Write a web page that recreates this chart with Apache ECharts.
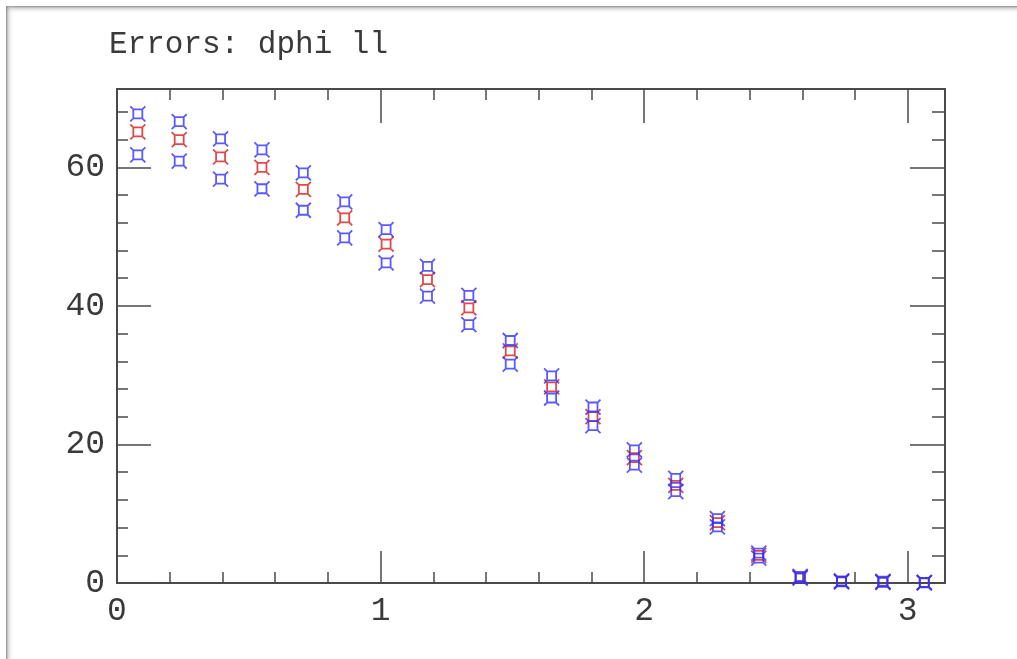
<!DOCTYPE html>
<html>
<head>
<meta charset="utf-8">
<title>Errors: dphi ll</title>
<script src="https://cdn.jsdelivr.net/npm/echarts@6/dist/echarts.min.js"></script>
<style>
  html, body { margin: 0; padding: 0; background: #ffffff; }
  #chart { width: 1017px; height: 659px; }
</style>
</head>
<body>
<div id="chart"></div>
<script>
// Bin centres of dphi(ll), 20 bins on [0, pi]
const binCenters = [0.079, 0.236, 0.393, 0.550, 0.707, 0.864, 1.021, 1.178, 1.335, 1.492,
                    1.649, 1.806, 1.963, 2.120, 2.278, 2.435, 2.592, 2.749, 2.906, 3.063];

// Nominal values (red) and the up / down variations (blue)
const nominal = [65.1, 64.0, 61.5, 60.0, 56.8, 52.7, 48.9, 43.8, 39.7, 33.5,
                 28.3, 24.0, 18.1, 14.1, 8.7, 4.0, 0.8, 0.22, 0.15, 0.05];
const errUp   = [67.7, 66.6, 64.1, 62.5, 59.2, 55.0, 51.0, 45.7, 41.5, 35.0,
                 29.9, 25.4, 19.2, 15.1, 9.3, 4.3, 0.95, 0.3, 0.25, 0.08];
const errDown = [61.8, 60.9, 58.3, 56.9, 53.8, 49.8, 46.2, 41.4, 37.3, 31.6,
                 26.7, 22.7, 17.0, 13.2, 8.1, 3.6, 0.7, 0.15, 0.1, 0.02];

// Axis ranges and tick positions
const xMin = 0, xMax = 3.1416;
const yMin = 0, yMax = 71.3;
const xMajorTicks = [0, 1, 2, 3];
const xMinorTicks = [0.2, 0.4, 0.6, 0.8, 1.2, 1.4, 1.6, 1.8, 2.2, 2.4, 2.6, 2.8];
const yMajorTicks = [0, 20, 40, 60];
const yMinorTicks = [4, 8, 12, 16, 24, 28, 32, 36, 44, 48, 52, 56, 64, 68];

const titleText = 'Errors: dphi ll';

// Marker: open square with flared corners
const markerPath = 'path://M3.5,3.5 L12.5,3.5 L12.5,12.5 L3.5,12.5 Z M0.5,0.5 L3.5,3.5 M15.5,0.5 L12.5,3.5 M0.5,15.5 L3.5,12.5 M15.5,15.5 L12.5,12.5';

const FONT = "'Liberation Mono', 'DejaVu Sans Mono', monospace";
const AXIS_COLOR = '#4a4a4a';

function zip(xs, ys) { return xs.map((x, i) => [x, ys[i]]); }

function xAxisDef(position, ticks, len, withLine, withLabels) {
  return {
    type: 'value', position, min: xMin, max: xMax, gridIndex: 0,
    axisLine: { show: withLine, onZero: false, lineStyle: { color: AXIS_COLOR, width: 2 } },
    axisTick: { show: true, inside: true, length: len, customValues: ticks,
                lineStyle: { color: AXIS_COLOR, width: 1.5 } },
    axisLabel: withLabels
      ? { show: true, customValues: ticks, margin: 12, color: '#3a3a3a',
          fontFamily: FONT, fontSize: 33, formatter: v => String(v) }
      : { show: false },
    splitLine: { show: false }
  };
}

function yAxisDef(position, ticks, len, withLine, withLabels) {
  return {
    type: 'value', position, min: yMin, max: yMax, gridIndex: 0,
    axisLine: { show: withLine, onZero: false, lineStyle: { color: AXIS_COLOR, width: 2 } },
    axisTick: { show: true, inside: true, length: len, customValues: ticks,
                lineStyle: { color: AXIS_COLOR, width: 1.5 } },
    axisLabel: withLabels
      ? { show: true, customValues: ticks, margin: 12, color: '#3a3a3a',
          fontFamily: FONT, fontSize: 33, formatter: v => String(v) }
      : { show: false },
    splitLine: { show: false }
  };
}

function markerSeries(name, data, color) {
  return {
    name, type: 'scatter', xAxisIndex: 0, yAxisIndex: 0,
    data, symbol: markerPath, symbolSize: 15, clip: false,
    itemStyle: { color: 'rgba(0,0,0,0)', borderColor: color, borderWidth: 1.8 },
    emphasis: { disabled: true },
    silent: true
  };
}

const chart = echarts.init(document.getElementById('chart'), null, { renderer: 'canvas' });

chart.setOption({
  backgroundColor: '#ffffff',
  animation: false,
  title: {
    text: titleText, left: 104, top: 24,
    textStyle: { fontFamily: FONT, fontSize: 31, fontWeight: 'normal', color: '#3a3a3a' }
  },
  grid: { left: 117, right: 72, top: 89, bottom: 76, containLabel: false },
  xAxis: [
    xAxisDef('bottom', xMajorTicks, 32, true, true),
    xAxisDef('bottom', xMinorTicks, 11, false, false),
    xAxisDef('top', xMajorTicks, 34, true, false),
    xAxisDef('top', xMinorTicks, 11, false, false)
  ],
  yAxis: [
    yAxisDef('left', yMajorTicks, 34, true, true),
    yAxisDef('left', yMinorTicks, 11, false, false),
    yAxisDef('right', yMajorTicks, 35, true, false),
    yAxisDef('right', yMinorTicks, 13, false, false)
  ],
  series: [
    markerSeries('nominal', zip(binCenters, nominal), '#d81c1c'),
    markerSeries('up', zip(binCenters, errUp), '#3030ff'),
    markerSeries('down', zip(binCenters, errDown), '#3030ff')
  ],
  graphic: [
    // soft frame shadow along the top and left edges of the canvas
    { type: 'rect', left: 6, top: 6, shape: { width: 1011, height: 8 }, silent: true,
      style: { fill: new echarts.graphic.LinearGradient(0, 0, 0, 1, [
        { offset: 0, color: 'rgba(120,120,120,0.85)' },
        { offset: 0.3, color: 'rgba(170,170,170,0.45)' },
        { offset: 1, color: 'rgba(255,255,255,0)' }]) } },
    { type: 'rect', left: 6, top: 6, shape: { width: 8, height: 653 }, silent: true,
      style: { fill: new echarts.graphic.LinearGradient(0, 0, 1, 0, [
        { offset: 0, color: 'rgba(120,120,120,0.85)' },
        { offset: 0.3, color: 'rgba(170,170,170,0.45)' },
        { offset: 1, color: 'rgba(255,255,255,0)' }]) } }
  ]
});
</script>
</body>
</html>
